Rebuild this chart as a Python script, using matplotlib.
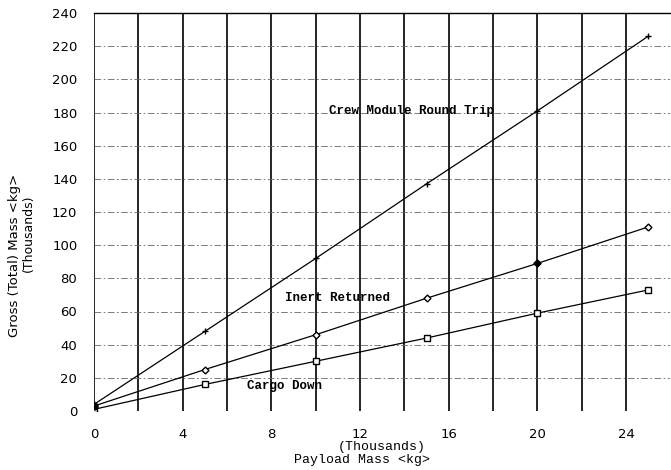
import matplotlib
matplotlib.use('Agg')
import matplotlib.pyplot as plt
import numpy as np

# payload mass (thousands kg)
payload = [0, 5, 10, 15, 20, 25]
# gross mass (thousands kg)
crew_round_trip = [4, 48, 92, 137, 181, 226]
inert_returned = [3, 25, 46, 68, 89, 111]
cargo_down = [1, 16, 30, 44, 59, 73]

xticks = [0, 4, 8, 12, 16, 20, 24]
yticks = list(range(0, 241, 20))
vgrid = list(range(0, 25, 2))

fig = plt.figure(figsize=(6.71, 4.70), dpi=100)
ax = fig.add_axes([94/671, 1 - 411/470, (670 - 94)/671, (411 - 13)/470])

for xv in vgrid:
    ax.axvline(xv, color='black', lw=1.2, zorder=1)
for yv in yticks:
    ax.axhline(yv, color='#666666', lw=0.6, ls=(0, (8, 3, 2, 3)), zorder=1)

ax.plot(payload, crew_round_trip, color='black', lw=0.9, marker='+', ms=5, zorder=3)
ax.plot(payload, inert_returned, color='black', lw=0.9, marker='D', ms=3.5,
        mfc='white', mec='black', zorder=3)
ax.plot(payload, cargo_down, color='black', lw=0.9, marker='s', ms=5,
        mfc='white', mec='black', zorder=3)
ax.plot([0], [inert_returned[0]], 'o', color='black', ms=5, zorder=4)
ax.plot([20], [inert_returned[4]], 'D', color='black', ms=3.5, zorder=4)

mono = 'Liberation Mono'
ax.text(10.6, 181, 'Crew Module Round Trip', fontsize=9, family=mono,
        fontweight='bold', va='center')
ax.text(8.6, 68, 'Inert Returned', fontsize=9, family=mono,
        fontweight='bold', va='center')
ax.text(6.9, 15, 'Cargo Down', fontsize=9, family=mono,
        fontweight='bold', va='center')

ax.set_xlim(0, 25.98)
ax.set_ylim(0, 240)
ax.set_xticks(xticks)
ax.set_yticks(yticks)
ax.tick_params(length=0, labelsize=9.5)
ax.tick_params(axis='x', pad=12)
ax.tick_params(axis='y', pad=12)
for sp in ['left', 'right', 'bottom']:
    ax.spines[sp].set_visible(False)
ax.spines['top'].set_linewidth(1.0)

fig.text(382/671, 1 - 447/470, '(Thousands)', family=mono, fontsize=9.5,
         ha='center', va='center')
fig.text(362/671, 1 - 460/470, 'Payload Mass <kg>', family=mono, fontsize=9.5,
         ha='center', va='center')
fig.text(15/671, 1 - 255/470, 'Gross (Total) Mass <kg>', rotation=90,
         fontsize=9.5, ha='center', va='center')
fig.text(28/671, 1 - 233/470, '(Thousands)', rotation=90,
         fontsize=9, ha='center', va='center')

fig.savefig('out.png', dpi=100)
